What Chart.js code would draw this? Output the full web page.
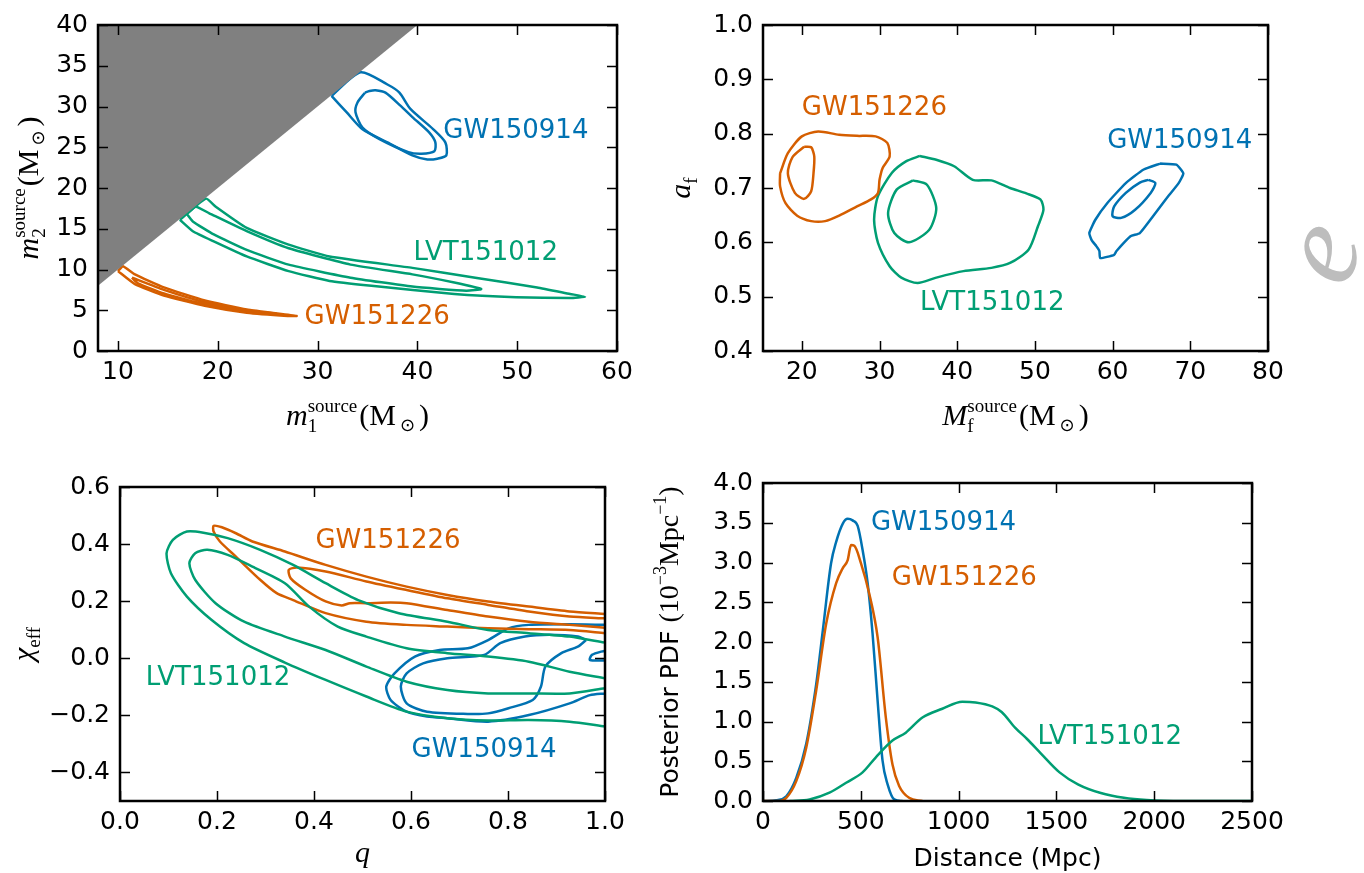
<!DOCTYPE html>
<html>
<head>
<meta charset="utf-8">
<script src="https://cdn.jsdelivr.net/npm/chart.js@4"></script>
<style>
body { margin: 0; background: #fff; width: 1364px; height: 873px; overflow: hidden; position: relative; }
canvas { position: absolute; left: 0; top: 0; }
</style>
</head>
<body>
<canvas id="c1" width="1364" height="873"></canvas>
<canvas id="c2" width="1364" height="873"></canvas>
<canvas id="c3" width="1364" height="873"></canvas>
<canvas id="c4" width="1364" height="873"></canvas>
<script>
// colours for the three events
const BLUE = '#0072b2', ORANGE = '#d55e00', GREEN = '#009e73'

// ---- panel 1: m1 vs m2 (source frame) ----
const m1Ticks = [10, 20, 30, 40, 50, 60]
const m2Ticks = [0, 5, 10, 15, 20, 25, 30, 35, 40]
const m1m2Bound = [[8, 8], [40, 40]]
const m1m2_GW150914_90 = [[31.4,31.3],[34.3,34.2],[37.0,32.7],[38.2,31.7],[39.3,29.7],[41.6,27.2],[42.8,25.6],[42.9,24.0],[42.0,23.6],[41.0,23.5],[39.5,24.0],[37.0,25.6],[34.5,27.2],[32.9,29.3],[31.4,31.3]]
const m1m2_GW150914_50 = [[34.75,31.7],[35.2,31.9],[35.8,32.0],[36.8,31.7],[38.3,30.1],[39.5,28.7],[41.2,26.8],[41.8,25.6],[41.7,24.5],[40.4,24.2],[39.1,24.4],[36.2,26.0],[34.5,27.4],[33.8,29.3],[34.0,30.5],[34.75,31.7]]
const m1m2_LVT151012_90 = [[16.2,16.1],[18.8,18.7],[19.8,17.7],[22.9,15.1],[27.1,13.05],[31.2,11.6],[39.5,10.2],[45.8,9.0],[52.0,7.8],[55.3,7.0],[56.8,6.65],[55.3,6.5],[49.9,6.6],[43.7,7.0],[35.4,8.0],[31.2,8.6],[27.1,9.8],[22.9,11.6],[19.6,13.45],[17.5,14.7],[16.2,16.1]]
const m1m2_LVT151012_50 = [[16.9,16.8],[17.8,17.7],[19.15,16.9],[22.9,14.7],[27.1,12.6],[33.3,10.6],[39.5,9.4],[43.7,8.4],[46.4,7.6],[44.9,7.4],[39.5,7.9],[33.3,9.0],[27.1,10.6],[22.9,12.4],[19.6,14.3],[17.5,15.9],[16.9,16.8]]
const m1m2_GW151226_90 = [[10.0,9.8],[10.5,10.4],[11.7,9.4],[14.6,7.8],[18.7,6.2],[22.9,5.1],[27.9,4.3],[27.0,4.3],[22.9,4.7],[18.7,5.55],[14.6,6.8],[11.7,8.2],[10.0,9.8]]
const m1m2_GW151226_50 = [[11.4,9.0],[14.6,7.5],[18.7,6.0],[22.9,5.0],[26.0,4.55],[22.9,4.85],[18.7,5.7],[14.6,7.05],[12.0,8.3],[11.4,9.0]]

// ---- panel 2: final mass vs final spin ----
const mfTicks = [20, 30, 40, 50, 60, 70, 80]
const afTicks = [0.4, 0.5, 0.6, 0.7, 0.8, 0.9, 1.0]
const mfaf_GW151226_90 = [[17.2,0.727],[18.2,0.764],[20.0,0.795],[22.1,0.804],[24.8,0.798],[27.1,0.796],[29.5,0.795],[31.0,0.783],[31.3,0.758],[30.4,0.737],[30.0,0.715],[29.8,0.691],[28.9,0.679],[27.1,0.666],[24.8,0.649],[23.0,0.639],[21.2,0.639],[19.4,0.649],[17.9,0.672],[17.2,0.703],[17.2,0.727]]
const mfaf_GW151226_50 = [[20.3,0.776],[21.2,0.775],[21.6,0.758],[21.5,0.727],[21.2,0.694],[20.3,0.680],[19.1,0.691],[18.2,0.727],[18.8,0.757],[20.3,0.776]]
const mfaf_LVT151012_90 = [[35.2,0.759],[37.3,0.752],[39.6,0.740],[42.0,0.715],[44.4,0.714],[46.8,0.700],[48.9,0.690],[50.7,0.679],[51.1,0.660],[50.4,0.630],[49.2,0.587],[46.8,0.562],[44.4,0.553],[40.8,0.547],[37.3,0.535],[34.9,0.525],[32.8,0.535],[31.3,0.556],[29.8,0.599],[29.3,0.642],[29.8,0.685],[31.6,0.728],[33.4,0.749],[35.2,0.759]]
const mfaf_LVT151012_50 = [[34.3,0.714],[36.1,0.706],[37.3,0.663],[36.4,0.623],[33.8,0.600],[31.9,0.617],[31.1,0.654],[32.2,0.697],[34.3,0.714]]
const mfaf_GW150914_90 = [[66.1,0.745],[68.2,0.743],[69.1,0.727],[68.5,0.709],[67.0,0.682],[65.2,0.648],[63.5,0.617],[62.3,0.611],[60.5,0.584],[60.2,0.577],[58.4,0.571],[58.3,0.584],[57.9,0.593],[57.3,0.604],[57.0,0.617],[57.8,0.642],[59.3,0.672],[61.7,0.709],[64.0,0.734],[66.1,0.745]]
const mfaf_GW150914_50 = [[64.6,0.715],[65.5,0.709],[64.9,0.691],[62.9,0.660],[61.1,0.645],[60.0,0.648],[60.2,0.666],[61.7,0.691],[63.5,0.710],[64.6,0.715]]

// ---- panel 3: mass ratio vs effective spin ----
const qTicks = [0.0, 0.2, 0.4, 0.6, 0.8, 1.0]
const chiTicks = [-0.4, -0.2, 0.0, 0.2, 0.4, 0.6]
const qchi_LVT151012_90 = [[0.998,0.055],[0.927,0.076],[0.843,0.088],[0.759,0.099],[0.675,0.128],[0.575,0.158],[0.491,0.204],[0.424,0.263],[0.357,0.327],[0.289,0.380],[0.222,0.421],[0.172,0.440],[0.138,0.444],[0.109,0.415],[0.096,0.368],[0.105,0.298],[0.138,0.216],[0.189,0.134],[0.256,0.053],[0.340,-0.015],[0.424,-0.076],[0.508,-0.134],[0.591,-0.187],[0.675,-0.210],[0.759,-0.218],[0.843,-0.216],[0.927,-0.222],[1.0,-0.239]]
const qchi_LVT151012_50 = [[1.0,-0.070],[0.927,-0.047],[0.843,-0.012],[0.759,0.006],[0.675,0.018],[0.591,0.035],[0.508,0.076],[0.449,0.111],[0.390,0.181],[0.340,0.263],[0.273,0.321],[0.222,0.362],[0.180,0.380],[0.155,0.368],[0.143,0.333],[0.155,0.275],[0.197,0.193],[0.256,0.128],[0.340,0.076],[0.424,0.029],[0.508,-0.029],[0.591,-0.082],[0.675,-0.111],[0.759,-0.123],[0.843,-0.123],[0.927,-0.123],[1.0,-0.105]]
const qchi_GW151226_90 = [[1.0,0.155],[0.927,0.164],[0.843,0.181],[0.759,0.199],[0.675,0.222],[0.591,0.251],[0.508,0.286],[0.424,0.327],[0.340,0.374],[0.273,0.409],[0.239,0.438],[0.210,0.459],[0.193,0.464],[0.193,0.444],[0.206,0.409],[0.239,0.356],[0.289,0.275],[0.323,0.228],[0.357,0.204],[0.424,0.158],[0.508,0.128],[0.591,0.117],[0.675,0.111],[0.759,0.105],[0.843,0.102],[0.927,0.099],[1.0,0.088]]
const qchi_GW151226_50 = [[1.0,0.140],[0.927,0.146],[0.843,0.164],[0.759,0.187],[0.675,0.210],[0.591,0.239],[0.508,0.269],[0.424,0.304],[0.365,0.318],[0.348,0.310],[0.352,0.280],[0.382,0.240],[0.424,0.199],[0.457,0.185],[0.474,0.193],[0.508,0.193],[0.558,0.195],[0.591,0.193],[0.675,0.169],[0.759,0.146],[0.843,0.128],[0.927,0.117],[1.0,0.107]]
const qchi_GW150914_90 = [[1.0,0.117],[0.927,0.119],[0.843,0.117],[0.801,0.105],[0.759,0.064],[0.717,0.035],[0.659,0.029],[0.608,0.006],[0.566,-0.053],[0.549,-0.099],[0.558,-0.146],[0.591,-0.187],[0.633,-0.204],[0.675,-0.210],[0.759,-0.222],[0.843,-0.199],[0.927,-0.158],[0.969,-0.129],[1.0,-0.123]]
const qchi_GW150914_50 = [[0.961,0.064],[0.944,0.041],[0.910,0.018],[0.877,-0.029],[0.868,-0.099],[0.851,-0.146],[0.801,-0.175],[0.759,-0.193],[0.717,-0.195],[0.633,-0.187],[0.591,-0.158],[0.579,-0.099],[0.591,-0.053],[0.625,-0.018],[0.675,0.000],[0.751,0.012],[0.784,0.053],[0.835,0.076],[0.885,0.082],[0.944,0.076],[0.961,0.064]]
const qchi_GW150914_50b = [[1.0,0.027],[0.973,0.012],[0.969,-0.006],[1.0,-0.008]]

// ---- panel 4: luminosity distance posteriors ----
const distTicks = [0, 500, 1000, 1500, 2000, 2500]
const pdfTicks = [0, 0.5, 1.0, 1.5, 2.0, 2.5, 3.0, 3.5, 4.0]
const dist_GW150914 = [[0,0],[68,0.01],[119,0.06],[170,0.29],[221,0.72],[272,1.47],[306,2.15],[348,2.99],[374,3.26],[408,3.49],[433,3.55],[458,3.53],[484,3.46],[509,3.16],[535,2.74],[560,2.11],[586,1.26],[611,0.51],[637,0.21],[671,0.02],[713,0]]
const dist_GW151226 = [[0,0],[76,0],[119,0.04],[170,0.25],[221,0.67],[272,1.39],[323,2.23],[374,2.74],[408,2.93],[433,3.03],[450,3.22],[467,3.21],[501,2.99],[543,2.61],[586,2.06],[628,1.05],[662,0.46],[696,0.19],[747,0.04],[815,0]]
const dist_LVT151012 = [[136,0],[238,0.02],[340,0.105],[425,0.23],[509,0.36],[577,0.55],[662,0.76],[730,0.86],[815,1.05],[917,1.16],[1019,1.25],[1087,1.24],[1172,1.19],[1220,1.12],[1290,0.92],[1350,0.78],[1420,0.6],[1516,0.36],[1610,0.21],[1727,0.1],[1845,0.04],[1962,0.012],[2150,0],[2500,0]]

const SANS = '"DejaVu Sans", sans-serif'
const SERIF = '"Liberation Serif", "DejaVu Serif", serif'
const SUN = '"DejaVu Sans", sans-serif'

const pts = arr => arr.map(([x, y]) => ({ x, y }))
const fmt1 = v => (v < 0 ? '\u2212' : '') + Math.abs(v).toFixed(1)

const contour = (arr, color, tension = 0.25) => ({
    data: pts(arr), showLine: true, borderColor: color, borderWidth: 2.5,
    pointRadius: 0, tension, fill: false
})

// draws a short math-like label made of pieces (sub/superscripts)
const drawRich = (ctx, parts, x, y, angle) => {
    ctx.save()
    ctx.translate(x, y)
    ctx.rotate(angle || 0)
    let w = 0, lastStart = 0, lastW = 0
    const pos = []
    parts.forEach(p => {
        if (p.gap) { pos.push(w); w += p.gap; lastStart = w; lastW = 0; return }
        ctx.font = p.f
        const pw = ctx.measureText(p.t).width
        if (p.stack) {
            pos.push(lastStart)
            w = Math.max(lastStart + lastW, lastStart + pw)
            lastW = Math.max(lastW, pw)
        } else {
            pos.push(w)
            lastStart = w
            lastW = pw
            w += pw
        }
    })
    ctx.textBaseline = 'alphabetic'
    ctx.textAlign = 'left'
    ctx.fillStyle = '#000'
    parts.forEach((p, i) => {
        if (p.gap) return
        ctx.font = p.f
        ctx.fillText(p.t, pos[i] - w / 2, p.dy || 0)
    })
    ctx.restore()
}

const decoPlugin = {
    id: 'deco',
    afterDraw(chart, args, opts) {
        const { ctx, chartArea: a, scales: { x, y } } = chart
        ctx.save()
        ;(opts.labels || []).forEach(l => {
            ctx.font = '26px ' + SANS
            ctx.fillStyle = l.color
            ctx.textAlign = 'left'
            ctx.textBaseline = 'middle'
            ctx.fillText(l.text, x.getPixelForValue(l.x), y.getPixelForValue(l.y))
        })
        ctx.strokeStyle = '#000'
        ctx.lineWidth = 1.5
        ctx.beginPath()
        x.ticks.forEach(t => {
            const px = Math.round(x.getPixelForValue(t.value)) + 0.5
            ctx.moveTo(px, a.bottom); ctx.lineTo(px, a.bottom - 10)
            ctx.moveTo(px, a.top); ctx.lineTo(px, a.top + 10)
        })
        y.ticks.forEach(t => {
            const py = Math.round(y.getPixelForValue(t.value)) + 0.5
            ctx.moveTo(a.left, py); ctx.lineTo(a.left + 10, py)
            ctx.moveTo(a.right, py); ctx.lineTo(a.right - 10, py)
        })
        ctx.stroke()
        ctx.lineWidth = 2.5
        ctx.strokeRect(a.left, a.top, a.right - a.left, a.bottom - a.top)
        drawRich(ctx, opts.xTitle, (a.left + a.right) / 2, a.bottom + opts.xDy, 0)
        drawRich(ctx, opts.yTitle, a.left - opts.yDx, (a.top + a.bottom) / 2 + (opts.yShift || 0), -Math.PI / 2)
        if (opts.mark) {
            ctx.save()
            ctx.translate(opts.mark.x, opts.mark.y)
            ctx.rotate(opts.mark.angle)
            ctx.font = opts.mark.font
            ctx.fillStyle = '#bdbdbd'
            ctx.textAlign = 'center'
            ctx.textBaseline = 'middle'
            ctx.fillText(opts.mark.text, 0, 0)
            ctx.restore()
        }
        ctx.restore()
    }
}

const axis = (min, max, ticks, fmt, isX) => ({
    type: 'linear', min, max,
    afterFit: s => { if (isX) s.height = 40; else s.width = 80 },
    afterBuildTicks: s => { s.ticks = ticks.map(v => ({ value: v })) },
    grid: { display: false, drawTicks: false },
    border: { display: false },
    ticks: {
        color: '#000', font: { family: SANS, size: 25 }, padding: isX ? 6 : 10,
        autoSkip: false, maxRotation: 0, callback: fmt
    }
})

const makeChart = (id, box, datasets, xs, ys, deco) => new Chart(document.getElementById(id), {
    type: 'scatter',
    data: { datasets },
    options: {
        responsive: false, animation: false, devicePixelRatio: 1,
        layout: { padding: { left: box.left - 80, top: box.top, right: 1364 - box.right, bottom: 873 - box.bottom - 40 } },
        plugins: { legend: { display: false }, tooltip: { enabled: false }, deco },
        scales: { x: xs, y: ys }
    },
    plugins: [decoPlugin]
})

const big = 'italic 30px ' + SERIF, rom = '30px ' + SERIF, scr = '19px ' + SERIF, sun = '18px ' + SUN
const massUnit = [{ gap: 2 }, { t: '(M', f: rom }, { gap: 4 }, { t: '\u2299', f: sun, dy: 6 }, { gap: 4 }, { t: ')', f: rom }]

// panel 1
makeChart('c1', { left: 98, top: 21, right: 617, bottom: 351 }, [
    { data: pts(m1m2Bound), showLine: true, borderWidth: 0, borderColor: 'rgba(0,0,0,0)', pointRadius: 0, fill: 'end', backgroundColor: '#808080' },
    contour(m1m2_GW150914_90, BLUE), contour(m1m2_GW150914_50, BLUE),
    contour(m1m2_LVT151012_90, GREEN, 0.15), contour(m1m2_LVT151012_50, GREEN, 0.15),
    contour(m1m2_GW151226_90, ORANGE, 0.15), contour(m1m2_GW151226_50, ORANGE, 0.15)
], axis(8, 60, m1Ticks, v => String(v), true), axis(0, 40, m2Ticks, v => String(v), false), {
    labels: [
        { text: 'GW150914', x: 42.6, y: 27.0, color: BLUE },
        { text: 'LVT151012', x: 39.6, y: 12.0, color: GREEN },
        { text: 'GW151226', x: 28.7, y: 4.1, color: ORANGE }
    ],
    xTitle: [{ t: 'm', f: big }, { t: '1', f: scr, dy: 7 }, { t: 'source', f: scr, dy: -13, stack: true }, ...massUnit],
    yTitle: [{ t: 'm', f: big }, { t: '2', f: scr, dy: 7 }, { t: 'source', f: scr, dy: -13, stack: true }, ...massUnit],
    xDy: 74, yDx: 60
})

// panel 2
makeChart('c2', { left: 763, top: 21, right: 1268, bottom: 351 }, [
    contour(mfaf_GW151226_90, ORANGE), contour(mfaf_GW151226_50, ORANGE),
    contour(mfaf_LVT151012_90, GREEN), contour(mfaf_LVT151012_50, GREEN),
    contour(mfaf_GW150914_90, BLUE, 0.15), contour(mfaf_GW150914_50, BLUE)
], axis(15, 80, mfTicks, v => String(v), true), axis(0.4, 1.0, afTicks, fmt1, false), {
    labels: [
        { text: 'GW151226', x: 20.0, y: 0.847, color: ORANGE },
        { text: 'GW150914', x: 59.3, y: 0.786, color: BLUE },
        { text: 'LVT151012', x: 35.2, y: 0.487, color: GREEN }
    ],
    xTitle: [{ t: 'M', f: big }, { t: 'f', f: scr, dy: 7 }, { t: 'source', f: scr, dy: -13, stack: true }, ...massUnit],
    yTitle: [{ t: 'a', f: big }, { t: 'f', f: scr, dy: 7 }],
    xDy: 74, yDx: 73,
    mark: { text: 'e', x: 1326, y: 254, angle: -1.2, font: 'italic 118px ' + SERIF }
})

// panel 3
makeChart('c3', { left: 120, top: 487, right: 605, bottom: 801 }, [
    contour(qchi_LVT151012_90, GREEN), contour(qchi_LVT151012_50, GREEN),
    contour(qchi_GW151226_90, ORANGE), contour(qchi_GW151226_50, ORANGE),
    contour(qchi_GW150914_90, BLUE), contour(qchi_GW150914_50, BLUE), contour(qchi_GW150914_50b, BLUE)
], axis(0, 1, qTicks, fmt1, true), axis(-0.5, 0.6, chiTicks, fmt1, false), {
    labels: [
        { text: 'GW151226', x: 0.403, y: 0.409, color: ORANGE },
        { text: 'LVT151012', x: 0.053, y: -0.070, color: GREEN },
        { text: 'GW150914', x: 0.601, y: -0.321, color: BLUE }
    ],
    xTitle: [{ t: 'q', f: big }],
    yTitle: [{ t: '\u03c7', f: big }, { t: 'eff', f: scr, dy: 7 }],
    xDy: 61, yDx: 87
})

// panel 4
const distLine = (arr, color) => ({
    data: pts(arr), showLine: true, borderColor: color, borderWidth: 2.5,
    pointRadius: 0, cubicInterpolationMode: 'monotone', fill: false
})
makeChart('c4', { left: 763, top: 483, right: 1252, bottom: 801 }, [
    distLine(dist_LVT151012, GREEN), distLine(dist_GW151226, ORANGE), distLine(dist_GW150914, BLUE)
], axis(0, 2500, distTicks, v => String(v), true), axis(0, 4, pdfTicks, fmt1, false), {
    labels: [
        { text: 'GW150914', x: 552, y: 3.50, color: BLUE },
        { text: 'GW151226', x: 658, y: 2.80, color: ORANGE },
        { text: 'LVT151012', x: 1403, y: 0.80, color: GREEN }
    ],
    xTitle: [{ t: 'Distance (Mpc)', f: '25px ' + SANS }],
    yTitle: [{ t: 'Posterior PDF ', f: '25px ' + SANS }, { t: '(10', f: '28px ' + SERIF }, { t: '\u22123', f: '18px ' + SERIF, dy: -12 }, { t: 'Mpc', f: '28px ' + SERIF }, { t: '\u22121', f: '18px ' + SERIF, dy: -12 }, { t: ')', f: '28px ' + SERIF }],
    xDy: 65, yDx: 85, yShift: 0
})
</script>
</body>
</html>
